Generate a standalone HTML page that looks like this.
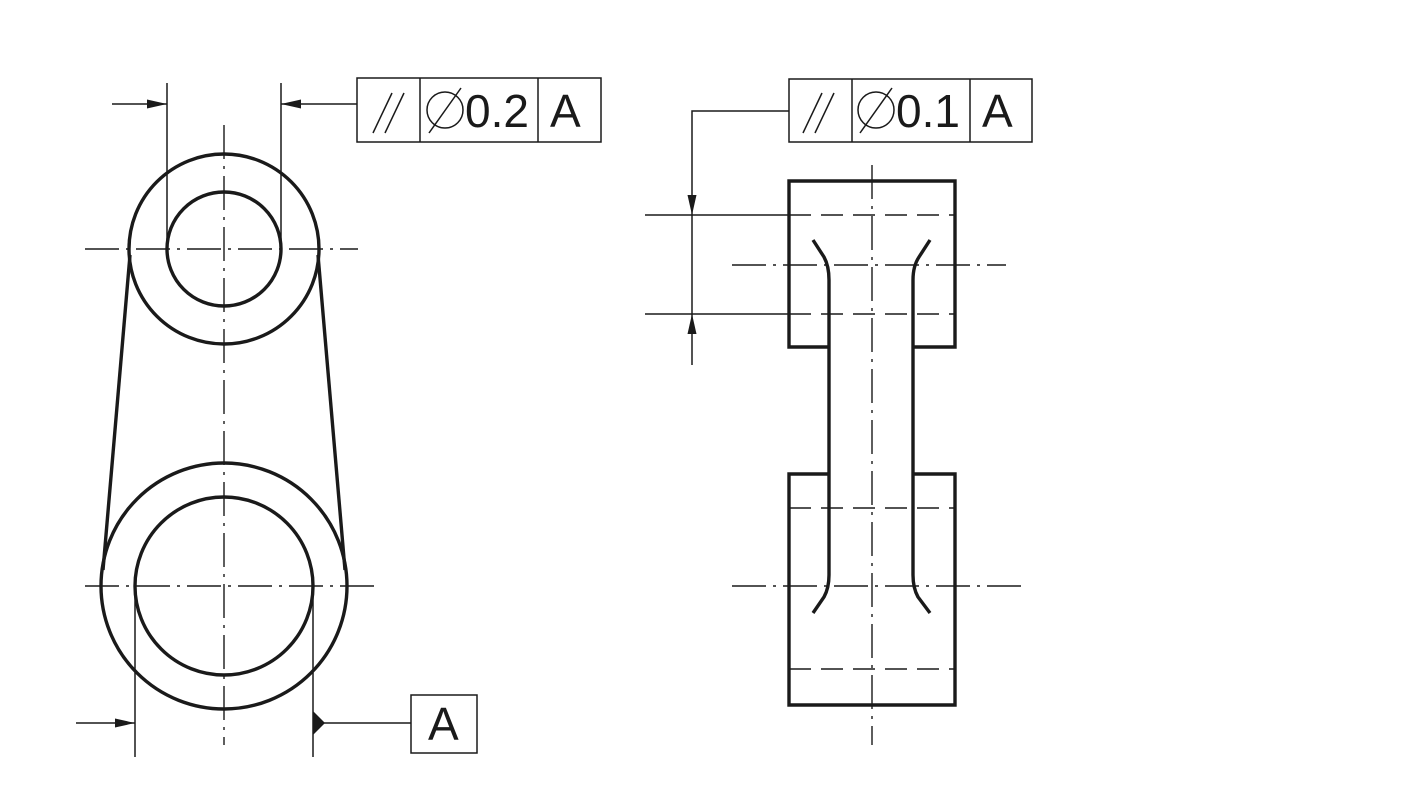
<!DOCTYPE html>
<html><head><meta charset="utf-8"><style>html,body{margin:0;padding:0;background:#fff}svg{display:block}</style></head>
<body>
<svg width="1424" height="794" viewBox="0 0 1424 794" xmlns="http://www.w3.org/2000/svg">
<defs>
<marker id="ah" markerWidth="20" markerHeight="10" refX="20" refY="5" orient="auto" markerUnits="userSpaceOnUse"><path d="M0,0.5 L20,5 L0,9.5 Z" fill="#1a1a1a"/></marker>
</defs>
<g stroke="#1a1a1a" fill="none">
<g stroke-width="1.4" stroke-dasharray="34 7 3 7">
<line x1="85" y1="249" x2="358" y2="249"/>
<line x1="85" y1="586" x2="378" y2="586"/>
<line x1="224" y1="125" x2="224" y2="745"/>
</g>
<g stroke-width="3.4">
<circle cx="224" cy="249" r="95"/>
<circle cx="224" cy="249" r="57"/>
<circle cx="224" cy="586" r="123"/>
<circle cx="224" cy="586" r="89"/>
<line x1="130" y1="255" x2="103" y2="570"/>
<line x1="318" y1="255" x2="345" y2="570"/>
</g>
<g stroke-width="1.5">
<line x1="167" y1="83" x2="167" y2="249"/>
<line x1="281" y1="83" x2="281" y2="249"/>
<line x1="112" y1="104" x2="167" y2="104" marker-end="url(#ah)"/>
<line x1="357" y1="104" x2="281" y2="104" marker-end="url(#ah)"/>
<rect x="357" y="78" width="244" height="64"/>
<line x1="420" y1="78" x2="420" y2="142"/>
<line x1="538" y1="78" x2="538" y2="142"/>
<line x1="373" y1="133" x2="392" y2="93"/>
<line x1="385" y1="133" x2="404" y2="93"/>
<circle cx="445" cy="110" r="18"/>
<line x1="429" y1="133" x2="461" y2="88"/>
</g>
<g stroke-width="1.5">
<line x1="135" y1="586" x2="135" y2="757"/>
<line x1="313" y1="586" x2="313" y2="757"/>
<line x1="76" y1="723" x2="135" y2="723" marker-end="url(#ah)"/>
<line x1="313" y1="723" x2="411" y2="723"/>
<rect x="411" y="695" width="66" height="58"/>
</g>
<path d="M313,711 L325,723 L313,735 Z" fill="#1a1a1a" stroke="none"/>

<g stroke-width="1.4" stroke-dasharray="34 7 3 7">
<line x1="872" y1="165" x2="872" y2="745"/>
<line x1="732" y1="265" x2="1006" y2="265"/>
<line x1="732" y1="586" x2="1026" y2="586"/>
</g>
<g stroke-width="1.5">
<line x1="645" y1="215" x2="789" y2="215"/>
<line x1="645" y1="314" x2="789" y2="314"/>
</g>
<g stroke-width="1.5" stroke-dasharray="22 10">
<line x1="789" y1="215" x2="955" y2="215"/>
<line x1="789" y1="314" x2="955" y2="314"/>
<line x1="789" y1="508" x2="955" y2="508"/>
<line x1="789" y1="669" x2="955" y2="669"/>
</g>
<g stroke-width="3.4">
<path d="M829,347 L789,347 L789,181 L955,181 L955,347 L913,347"/>
<path d="M829,474 L789,474 L789,705 L955,705 L955,474 L913,474"/>
<path d="M813,240 L824,257 Q829,266 829,280 L829,575 Q829,588 824,597 L813,613"/>
<path d="M930,240 L919,257 Q913,266 913,280 L913,575 Q913,588 918,597 L930,613"/>
</g>
<g stroke-width="1.5">
<polyline points="789,111 692,111 692,215" marker-end="url(#ah)"/>
<line x1="692" y1="365" x2="692" y2="314" marker-end="url(#ah)"/>
<line x1="692" y1="215" x2="692" y2="314"/>
<rect x="789" y="79" width="243" height="63"/>
<line x1="852" y1="79" x2="852" y2="142"/>
<line x1="970" y1="79" x2="970" y2="142"/>
<line x1="803" y1="133" x2="822" y2="93"/>
<line x1="815" y1="133" x2="834" y2="93"/>
<circle cx="876" cy="110" r="18"/>
<line x1="860" y1="133" x2="892" y2="88"/>
</g>
</g>
<g font-family="'Liberation Sans', sans-serif" font-size="46" fill="#1a1a1a">
<text x="465" y="127">0.2</text>
<text x="550" y="127">A</text>
<text x="896" y="127">0.1</text>
<text x="982" y="127">A</text>
<text x="428" y="740">A</text>
</g>
</svg>
</body></html>
